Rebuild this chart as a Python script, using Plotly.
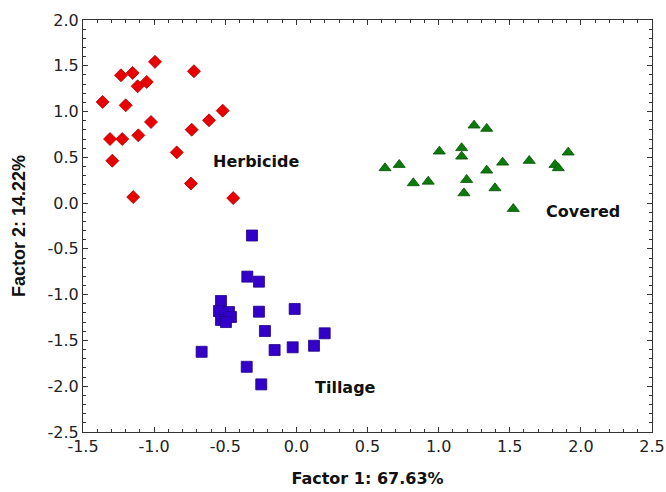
import plotly.graph_objects as go

# Herbicide (red diamonds)
herb_x = [-0.994, -0.720, -1.233, -1.151, -1.116, -1.052, -1.362, -1.200, -0.518, -0.614,
          -1.022, -0.736, -1.310, -1.224, -1.111, -0.841, -1.294, -0.741, -1.147, -0.444]
herb_y = [1.543, 1.440, 1.396, 1.422, 1.276, 1.324, 1.105, 1.068, 1.010, 0.904,
          0.886, 0.802, 0.700, 0.700, 0.740, 0.554, 0.463, 0.214, 0.066, 0.055]

# Tillage (blue squares)
till_x = [-0.312, -0.345, -0.263, -0.530, -0.544, -0.530, -0.474, -0.460, -0.495,
          -0.263, -0.012, -0.221, 0.199, 0.124, -0.026, -0.153, -0.666, -0.349, -0.247]
till_y = [-0.354, -0.803, -0.858, -1.069, -1.178, -1.276, -1.190, -1.244, -1.299,
          -1.186, -1.156, -1.397, -1.422, -1.558, -1.575, -1.605, -1.624, -1.788, -1.980]

# Covered (green triangles)
cov_x = [1.249, 1.338, 1.005, 1.162, 1.162, 0.623, 0.723, 1.450, 1.637, 1.911,
         1.818, 1.841, 1.338, 0.822, 0.927, 1.197, 1.178, 1.396, 1.525]
cov_y = [0.849, 0.813, 0.565, 0.602, 0.510, 0.383, 0.419, 0.444, 0.463, 0.554,
         0.419, 0.383, 0.357, 0.219, 0.236, 0.255, 0.109, 0.164, -0.062]

x_ticks = [-1.5, -1.0, -0.5, 0.0, 0.5, 1.0, 1.5, 2.0, 2.5]
x_ticktext = ["-1.5", "-1.0", "-0.5", "0.0", "0.5", "1.0", "1.5", "2.0", "2.5"]
y_ticks = [-2.5, -2.0, -1.5, -1.0, -0.5, 0.0, 0.5, 1.0, 1.5, 2.0]
y_ticktext = ["-2.5", "-2.0", "-1.5", "-1.0", "-0.5", "0.0", "0.5", "1.0", "1.5", "2.0"]

labels = ["Herbicide", "Covered", "Tillage"]
label_x = [-0.284, 2.015, 0.342]
label_y = [0.452, -0.095, -2.01]

fig = go.Figure()
fig.add_trace(go.Scatter(x=herb_x, y=herb_y, mode="markers", name="Herbicide",
                         marker=dict(symbol="diamond", size=10, color="#e80000",
                                     line=dict(color="#b00000", width=0.8))))
fig.add_trace(go.Scatter(x=till_x, y=till_y, mode="markers", name="Tillage",
                         marker=dict(symbol="square", size=11, color="#3200c8",
                                     line=dict(color="#22008c", width=0.8))))
fig.add_trace(go.Scatter(x=cov_x, y=cov_y, mode="markers", name="Covered",
                         marker=dict(symbol="triangle-up", size=10.5, color="#0c7a0c",
                                     line=dict(color="#005000", width=0.8))))

for t, lx, ly in zip(labels, label_x, label_y):
    fig.add_annotation(x=lx, y=ly, text=t, showarrow=False,
                       font=dict(family="DejaVu Sans", size=16, color="#111111", weight="bold"))

axis_common = dict(showgrid=False, zeroline=False, showline=True, linecolor="#333333",
                   linewidth=1, mirror="ticks", ticks="inside", ticklen=5, tickcolor="#333333",
                   automargin=False,
                   tickfont=dict(family="DejaVu Sans", size=16, color="#222222"))

fig.update_xaxes(range=[-1.5, 2.5], tickvals=x_ticks, ticktext=x_ticktext,
                 minor=dict(dtick=0.1, ticks="inside", ticklen=3, tickcolor="#333333"),
                 title=dict(text="Factor 1: 67.63%", standoff=17,
                            font=dict(family="DejaVu Sans", size=16, color="#111111", weight="bold")),
                 **axis_common)
fig.update_yaxes(range=[-2.5, 2.0], tickvals=y_ticks, ticktext=y_ticktext,
                 minor=dict(dtick=0.1, ticks="inside", ticklen=3, tickcolor="#333333"),
                 title=dict(text="Factor 2: 14.22%", standoff=17,
                            font=dict(family="Liberation Sans", size=18, color="#111111", weight="bold")),
                 **axis_common)

fig.update_layout(width=666, height=492, showlegend=False,
                  margin=dict(l=83, r=14, t=20, b=60),
                  plot_bgcolor="white", paper_bgcolor="white")

fig.write_html("out.html", config={"displayModeBar": False},
               post_script="document.body.style.margin='0';document.body.style.padding='0';")
